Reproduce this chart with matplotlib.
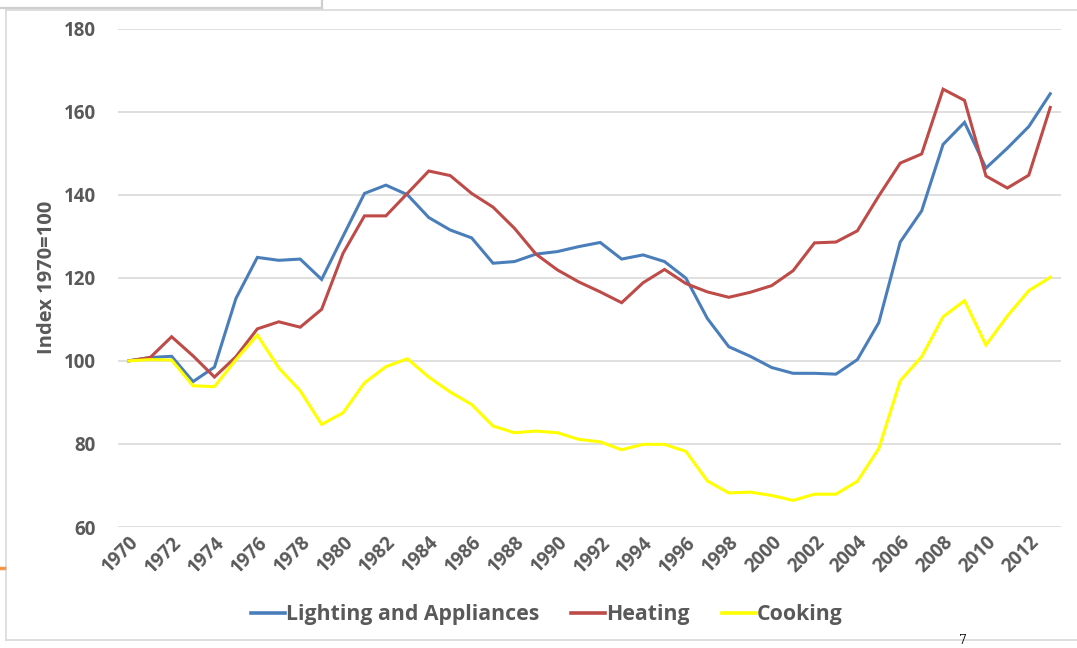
import matplotlib.pyplot as plt
from matplotlib.lines import Line2D

# data (index, 1970 = 100)
years = list(range(1970, 2014))

lighting = [100.0, 100.8, 101.1, 95.0, 98.5, 115.0, 124.9, 124.2, 124.5, 119.6,
            130.0, 140.3, 142.3, 140.0, 134.5, 131.5, 129.6, 123.5, 123.9, 125.7,
            126.3, 127.5, 128.5, 124.5, 125.5, 123.9, 119.9, 110.2, 103.4, 101.1,
            98.4, 97.0, 97.0, 96.8, 100.3, 109.2, 128.6, 136.1, 152.1, 157.4,
            146.4, 151.2, 156.4, 164.3]

heating = [100.0, 100.8, 105.8, 101.2, 96.1, 101.0, 107.7, 109.4, 108.1, 112.4,
           125.9, 134.9, 134.9, 140.3, 145.7, 144.6, 140.3, 137.0, 131.9, 125.7,
           121.9, 119.0, 116.6, 114.0, 118.8, 122.0, 118.6, 116.6, 115.3, 116.5,
           118.1, 121.7, 128.4, 128.6, 131.3, 139.7, 147.6, 149.8, 165.4, 162.7,
           144.5, 141.6, 144.7, 161.0]

cooking = [100.0, 100.3, 100.2, 94.0, 93.8, 100.3, 106.2, 98.3, 92.8, 84.7,
           87.5, 94.7, 98.6, 100.5, 96.1, 92.5, 89.5, 84.3, 82.7, 83.1,
           82.7, 81.1, 80.5, 78.6, 79.9, 79.9, 78.2, 71.1, 68.2, 68.4,
           67.6, 66.4, 67.9, 67.9, 71.0, 78.9, 95.2, 101.0, 110.6, 114.5,
           103.8, 110.8, 116.9, 120.1]

series = ["Lighting and Appliances", "Heating", "Cooking"]
colors = ["#4A7EBB", "#BE4B48", "#FFFF00"]
y_ticks = [60, 80, 100, 120, 140, 160, 180]

plt.rcParams['font.family'] = ['Open Sans', 'DejaVu Sans']
text_col = "#595959"

fig = plt.figure(figsize=(10.77, 6.48), dpi=100)
ax = fig.add_axes([0.1096, 0.1867, 0.8755, 0.7693])

x = list(range(len(years)))
for vals, name, c in zip([lighting, heating, cooking], series, colors):
    ax.plot(x, vals, color=c, lw=2.2, label=name, solid_joinstyle='miter')

ax.set_xlim(-0.5, len(years) - 0.5)
ax.set_ylim(60, 180)
ax.set_yticks(y_ticks)
ax.set_yticklabels([str(v) for v in y_ticks], fontsize=13.5, fontweight='bold', color=text_col)
ax.set_xticks(x[::2])
ax.set_xticklabels([str(y) for y in years[::2]], rotation=45, ha='right', va='top',
                   rotation_mode='anchor', fontsize=13.5, fontweight='bold', color=text_col)
ax.tick_params(axis='both', length=0)
ax.tick_params(axis='y', pad=16)
ax.tick_params(axis='x', pad=4)
ax.grid(axis='y', color='#D9D9D9', lw=1.2)
ax.set_axisbelow(True)
for s in ax.spines.values():
    s.set_visible(False)

ax.set_ylabel("Index 1970=100", fontsize=14.5, fontweight='bold', color=text_col, labelpad=5)

handles = [Line2D([], [], color=c, lw=2.6) for c in colors]
fig.legend(handles, series, loc='center', bbox_to_anchor=(0.508, 0.051), ncol=3, frameon=False,
           handlelength=1.6, handletextpad=0.05, columnspacing=1.5,
           prop={'family': ['Open Sans', 'DejaVu Sans'], 'weight': 'bold', 'size': 15.3}, labelcolor=text_col)

# slide frame bits around the chart
W, H = 1077, 648
def fl(x0, y0, x1, y1, c='#D9D9D9', lw=1.2):
    fig.add_artist(Line2D([x0 / W, x1 / W], [1 - y0 / H, 1 - y1 / H], color=c, lw=lw,
                          transform=fig.transFigure))
fl(5.5, 9.5, W, 9.5)
fl(5.5, 9.5, 5.5, 640)
fl(5.5, 640, W, 640)
fl(0, 8, 322, 8, c='#CFCFCF', lw=1.6)
fl(322, 0, 322, 8, c='#CFCFCF', lw=1.6)
fl(0, 568, 4, 568, c='#F79646', lw=2.5)
fig.text(963 / W, 1 - 647 / H, "7", fontsize=9, family='DejaVu Serif', ha='center', va='bottom')

fig.savefig("out.png", dpi=100)
